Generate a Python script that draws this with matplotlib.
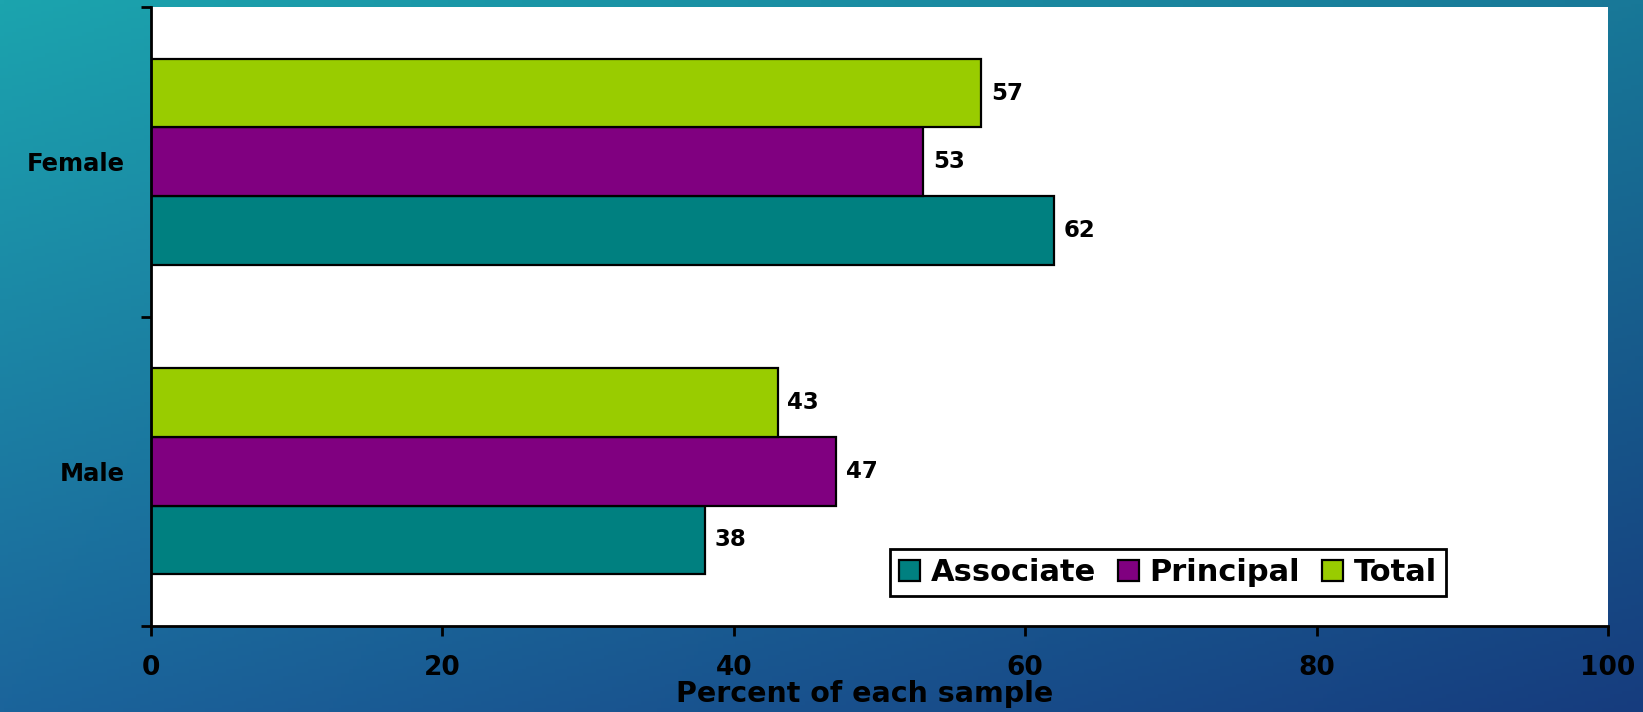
import numpy as np
import matplotlib
matplotlib.use("Agg")
import matplotlib.pyplot as plt

plt.rcParams['font.family'] = ['DejaVu Sans']
plt.rcParams['font.weight'] = 'bold'

categories = ["Male", "Female"]
series_names = ["Associate", "Principal", "Total"]
associate = [38, 62]
principal = [47, 53]
total = [43, 57]
colors = ["#008080", "#800080", "#99CC00"]
xticks = [0, 20, 40, 60, 80, 100]

W, H = 1643, 712
fig = plt.figure(figsize=(W / 100, H / 100), dpi=100)

# background gradient
bg = fig.add_axes([0, 0, 1, 1], zorder=-10)
ny, nx = 200, 400
u = np.linspace(0, 1, nx)[None, :, None]
v = np.linspace(0, 1, ny)[:, None, None]
tl = np.array([28, 164, 174]) / 255
tr = np.array([24, 120, 152]) / 255
bl = np.array([27, 100, 155]) / 255
br = np.array([22, 60, 126]) / 255
img = (1 - u) * (1 - v) * tl + u * (1 - v) * tr + (1 - u) * v * bl + u * v * br
bg.imshow(img, aspect='auto', extent=[0, 1, 0, 1], origin='upper')
bg.set_axis_off()

left, right = 151 / W, 1608 / W
bottom, top = 1 - 626 / H, 1 - 7 / H
ax = fig.add_axes([left, bottom, right - left, top - bottom])
ax.set_facecolor('white')

y = np.arange(len(categories)) + 0.5
h = 0.222
offsets = [-h, 0, h]
for vals, name, col, off in zip([associate, principal, total], series_names, colors, offsets):
    bars = ax.barh(y + off, vals, height=h, color=col, edgecolor='black',
                   linewidth=1.6, label=name)
    for b, val in zip(bars, vals):
        ax.annotate(f"{val}", (b.get_width(), b.get_y() + b.get_height() / 2),
                    xytext=(7, 0), textcoords='offset points', va='center', ha='left',
                    fontsize=16.5, fontweight='bold', color='black')

ax.set_xlim(0, 100)
ax.set_ylim(0, 2)
ax.set_xticks(xticks)
ax.set_xticklabels([str(t) for t in xticks], fontsize=19, fontweight='bold')
ax.tick_params(axis='x', direction='out', length=7, width=2, pad=14, colors='black')
ax.set_yticks([0, 1, 2])
ax.set_yticklabels([])
ax.set_yticks(y, minor=True)
ax.set_yticklabels(categories, minor=True, fontsize=17.5, fontweight='bold')
ax.tick_params(axis='y', which='major', direction='out', length=7, width=2)
ax.tick_params(axis='y', which='minor', length=0, pad=19)
for s in ['top', 'right']:
    ax.spines[s].set_visible(False)
ax.spines['left'].set_linewidth(2)
ax.spines['bottom'].set_linewidth(2)
ax.set_xlabel("Percent of each sample", fontsize=20.5, fontweight='bold')
ax.xaxis.set_label_coords(0.49, -0.110)
ax.xaxis.label.set_va('center')

leg = ax.legend(loc='center', bbox_to_anchor=(0.698, 0.086), ncol=3,
                frameon=True, fancybox=False, edgecolor='black', handlelength=0.7,
                handleheight=0.7, handletextpad=0.35, columnspacing=0.7, borderpad=0.3,
                borderaxespad=0, prop={'weight': 'bold', 'size': 22})
leg.get_frame().set_linewidth(2)
leg.get_frame().set_alpha(1)

fig.savefig("out.png", dpi=100)
